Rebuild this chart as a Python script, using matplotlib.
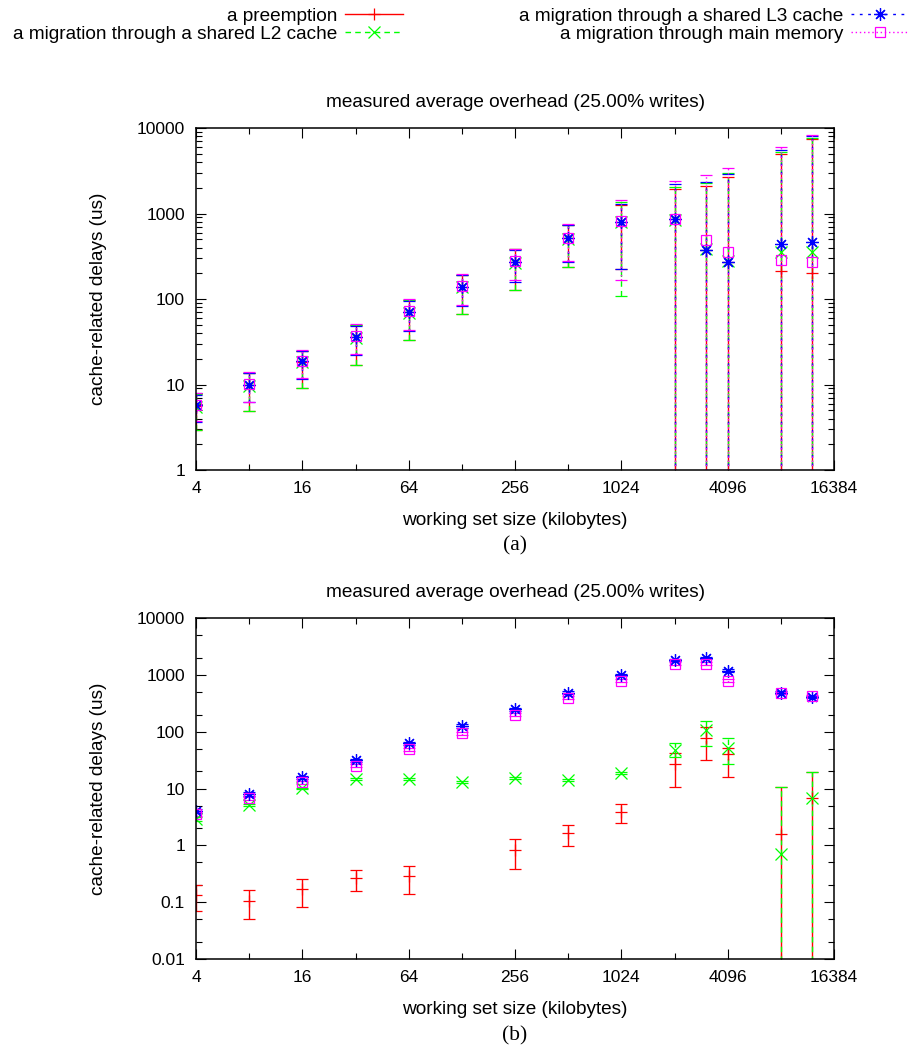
import numpy as np
import matplotlib
matplotlib.use('Agg')
import matplotlib.pyplot as plt
from matplotlib.lines import Line2D
from matplotlib.ticker import FixedLocator, FixedFormatter, LogLocator, FuncFormatter, NullFormatter

plt.rcParams['font.family'] = ['Liberation Sans', 'DejaVu Sans']

# working set sizes (kilobytes)
wss = [4, 8, 16, 32, 64, 128, 256, 512, 1024, 2048, 3072, 4096, 8192, 12288]
xtick_major = [4, 16, 64, 256, 1024, 4096, 16384]
xtick_minor = [8, 32, 128, 512, 2048, 8192]
xtick_labels = ['4', '16', '64', '256', '1024', '4096', '16384']

labels = ['a preemption', 'a migration through a shared L2 cache',
          'a migration through a shared L3 cache', 'a migration through main memory']
title = 'measured average overhead (25.00% writes)'

# ---- (a) ---- (0 = lower end below the axis)
a_pre = [5.6, 9.9, 18.5, 35.6, 70, 139, 268, 513, 801, 855, 374, 273, 212, 200]
a_pre_lo = [2.9, 4.9, 9.0, 16.9, 33.4, 66, 127, 239, 225, 0, 0, 0, 0, 0]
a_pre_hi = [7.7, 13.7, 25, 49.6, 97, 191, 381, 728, 1260, 1930, 2120, 2690, 4960, 7370]

a_l2 = [5.5, 9.7, 18.2, 35, 69, 137, 265, 505, 790, 850, 380, 275, 357, 357]
a_l2_lo = [2.9, 4.9, 9.0, 16.9, 33.4, 66, 127, 239, 109, 0, 0, 0, 0, 0]
a_l2_hi = [7.7, 13.7, 25, 49.6, 97, 191, 381, 728, 1350, 2050, 2250, 3020, 5250, 7700]

a_l3 = [5.7, 10, 18.6, 35.8, 70.5, 140, 270, 515, 805, 860, 374, 273, 437, 468]
a_l3_lo = [3.6, 6.2, 11.5, 21.9, 42.6, 83.5, 160, 273, 225, 0, 0, 0, 0, 0]
a_l3_hi = [7.6, 13.5, 24.8, 49, 96, 189, 378, 725, 1300, 2190, 2350, 2900, 5530, 8050]

a_mem = [5.8, 10.2, 19, 36.5, 72, 143, 275, 520, 815, 870, 490, 355, 286, 273]
a_mem_lo = [3.7, 6.3, 11.8, 22.5, 44, 86, 165, 280, 167, 0, 0, 0, 0, 0]
a_mem_hi = [7.9, 14, 25.5, 50.5, 99, 195, 390, 745, 1440, 2420, 2820, 3430, 6030, 8280]

# ---- (b) ----
b_pre = [0.134, 0.106, 0.169, 0.263, 0.293, np.nan, 0.83, 1.63, 3.93, 27.1, 76.9, 40.6, 1.59, 6.7]
b_pre_lo = [0.07, 0.05, 0.081, 0.157, 0.138, np.nan, 0.38, 0.975, 2.45, 10.5, 31.8, 15.8, 0, 0]
b_pre_hi = [0.198, 0.162, 0.259, 0.364, 0.44, np.nan, 1.28, 2.29, 5.36, 42.9, 120, 51, 10.8, 19.4]

b_l2 = [2.9, 5.1, 10.1, 14.6, 14.6, 13.1, 15.1, 14.2, 18.6, 47.8, 107.6, 51.3, 0.71, 6.75]
b_l2_lo = [2.7, 4.9, 9.8, 14, 14, 12.5, 14.5, 13.6, 17.8, 36.5, 56, 27.1, 0, 0]
b_l2_hi = [3.1, 5.3, 10.4, 15.2, 15.2, 13.7, 15.7, 14.8, 19.4, 62.7, 157, 76.9, 10.8, 19.4]

b_l3 = [4.0, 8.1, 15.8, 31.5, 62.7, 126, 249, 489, 1000, 1837, 1970, 1191, 489, 405]
b_l3_lo = [3.7, 7.5, 14.8, 29.5, 59, 118, 235, 465, 950, 1750, 1880, 1130, 465, 385]
b_l3_hi = [4.3, 8.7, 16.8, 33.5, 66, 134, 263, 513, 1050, 1925, 2060, 1250, 513, 425]

b_mem = [3.57, 6.7, 12.9, 25.4, 49.2, 94, 198, 398, 795, 1560, 1560, 795, 480, 427]
b_mem_lo = [3.3, 6.2, 12.0, 23.8, 46, 88, 186, 375, 750, 1470, 1470, 750, 455, 405]
b_mem_hi = [3.85, 7.2, 13.8, 27, 52.5, 100, 210, 420, 840, 1650, 1650, 840, 505, 450]

colors = ['#ff0000', '#00ff00', '#0000ff', '#ff00ff']
styles = ['-', (0, (4, 3)), (0, (2, 4)), (0, (1, 2))]
markers = ['+', 'x', (8, 2, 0), 's']
msizes = [9, 8, 9, 7]

FS = 13.7


def draw(ax, series, ymin, ymax, subs):
    for (c, lo, hi), col, ls, mk, ms in zip(series, colors, styles, markers, msizes):
        c = np.array(c, float)
        lo = np.array(lo, float)
        hi = np.array(hi, float)
        lo = np.where(lo > 0, lo, 1e-9)
        eb = ax.errorbar(wss, c, yerr=[c - lo, hi - c], linestyle='none', marker=mk, ms=ms,
                         mfc='none', mec=col, mew=0.9, ecolor=col, elinewidth=1,
                         capsize=4.3, capthick=1)
        eb[2][0].set_linestyle(ls)
    ax.set_xscale('log', base=2)
    ax.set_yscale('log')
    ax.set_xlim(4, 16384)
    ax.set_ylim(ymin, ymax)
    ax.xaxis.set_major_locator(FixedLocator(xtick_major))
    ax.xaxis.set_major_formatter(FixedFormatter(xtick_labels))
    ax.xaxis.set_minor_locator(FixedLocator(xtick_minor))
    ax.xaxis.set_minor_formatter(NullFormatter())
    ax.yaxis.set_major_locator(LogLocator(base=10, numticks=20))
    ax.yaxis.set_major_formatter(FuncFormatter(lambda v, p: f'{v:g}'))
    ax.yaxis.set_minor_locator(LogLocator(base=10, subs=subs, numticks=20))
    ax.yaxis.set_minor_formatter(NullFormatter())
    ax.tick_params(which='both', direction='in', top=True, right=True, width=0.8, labelsize=12.5, pad=8)
    ax.tick_params(which='major', length=7)
    ax.tick_params(which='minor', length=4)
    for s in ax.spines.values():
        s.set_linewidth(1.1)
    ax.set_title(title, fontsize=FS, pad=15)
    ax.set_xlabel('working set size (kilobytes)', fontsize=FS)
    ax.set_ylabel('cache-related delays (us)', fontsize=FS)
    ax.xaxis.set_label_coords(0.5, -0.122)
    ax.yaxis.set_label_coords(-0.140, 0.5)


fig = plt.figure(figsize=(9.16, 10.48), dpi=100)
ax1 = fig.add_axes([0.214, 0.5515, 0.6965, 0.3263])
ax2 = fig.add_axes([0.214, 0.0849, 0.6965, 0.3254])

draw(ax1, [(a_pre, a_pre_lo, a_pre_hi), (a_l2, a_l2_lo, a_l2_hi),
           (a_l3, a_l3_lo, a_l3_hi), (a_mem, a_mem_lo, a_mem_hi)],
     1, 10000, np.arange(2, 10))
draw(ax2, [(b_pre, b_pre_lo, b_pre_hi), (b_l2, b_l2_lo, b_l2_hi),
           (b_l3, b_l3_lo, b_l3_hi), (b_mem, b_mem_lo, b_mem_hi)],
     0.01, 10000, [2, 5])

ax1.text(0.5, -0.222, '(a)', transform=ax1.transAxes, ha='center', va='center',
         fontsize=15.5, family='Liberation Serif')
ax2.text(0.5, -0.224, '(b)', transform=ax2.transAxes, ha='center', va='center',
         fontsize=15.5, family='Liberation Serif')

handles = [Line2D([], [], color=col, ls=ls, marker=mk, ms=ms, mfc='none', mew=0.9, lw=1)
           for col, ls, mk, ms in zip(colors, styles, markers, msizes)]
fig.legend(handles, labels, ncol=2, markerfirst=False, frameon=False, fontsize=FS,
           loc='upper left', bbox_to_anchor=(0.0145, 0.993), borderpad=0, borderaxespad=0,
           handlelength=3.05, handletextpad=0.4, columnspacing=6.1, labelspacing=0.05)

fig.savefig('out.png', dpi=100)
